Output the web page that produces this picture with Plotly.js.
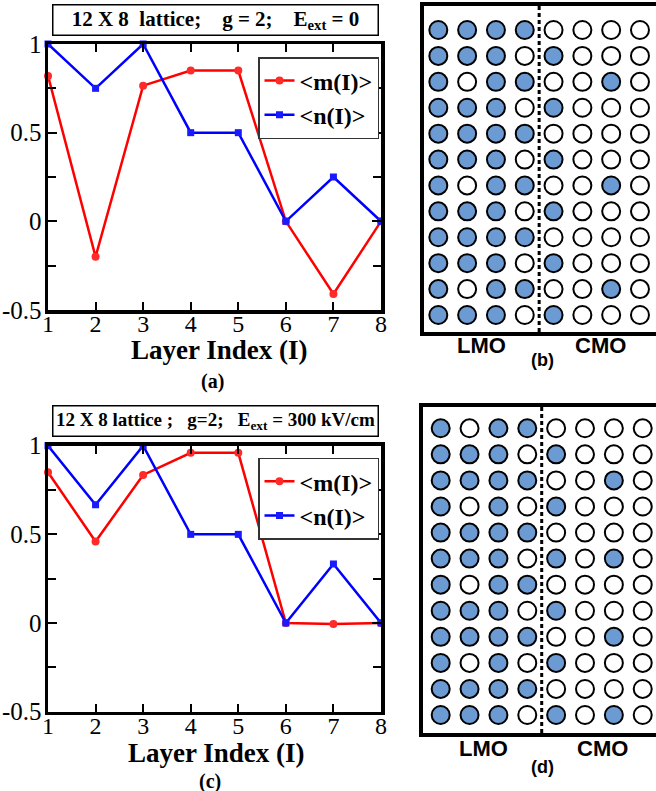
<!DOCTYPE html>
<html>
<head>
<meta charset="utf-8">
<script src="https://cdn.plot.ly/plotly-3.0.1.min.js"></script>
<style>html,body{margin:0;padding:0;background:#fff;}#chart{width:656px;height:791px;}</style>
</head>
<body>
<div id="chart"></div>
<script>
// ---------- data ----------
const layerIndex = [1, 2, 3, 4, 5, 6, 7, 8];
// panel (a): E_ext = 0
const mA = [0.82, -0.2, 0.765, 0.85, 0.85, 0, -0.41, 0];
const nA = [1, 0.75, 1, 0.5, 0.5, 0, 0.25, 0];
// panel (c): E_ext = 300 kV/cm
const mC = [0.85, 0.46, 0.835, 0.96, 0.96, 0, -0.005, 0];
const nC = [1, 0.667, 1, 0.5, 0.5, 0, 0.333, 0];
const yTickVals = [-0.5, 0, 0.5, 1];
const yTickText = ["-0.5", "0", "0.5", "1"];
// lattice occupation (1 = filled), rows top to bottom, 8 columns (4 LMO | 4 CMO)
const latticeB = [
  "11110000","11101000","10110010","11101000",
  "11110000","11101000","10110010","11101000",
  "11110000","11101000","10110010","11101000"
];
const latticeD = [
  "10110000","11101000","11110010","10101000",
  "11110000","11101010","10110000","11101000",
  "11110010","10101000","11110000","11101010"
];
const regionLabels = ["LMO", "CMO"];
const xAxisLabel = "Layer Index (I)";
const titleA = "12 X 8\u00a0\u00a0lattice;\u00a0\u00a0\u00a0 g = 2;\u00a0\u00a0\u00a0 E<sub>ext</sub> = 0";
const titleC = "12 X 8 lattice ;\u00a0\u00a0 g=2;\u00a0\u00a0 E<sub>ext</sub> = 300 kV/cm";

// ---------- styles ----------
const SERIF = "Liberation Serif, Times New Roman, serif";
const SANS = "Liberation Sans, Arial, sans-serif";
const FILL = "#6b9bd2";

function lineTraces(m, n, xa, ya, leg) {
  return [
    {x: layerIndex, y: m, xaxis: xa, yaxis: ya, legend: leg, name: "&lt;m(I)&gt;",
     mode: "lines+markers", cliponaxis: false,
     line: {color: "#ff0000", width: 2.5},
     marker: {symbol: "circle", size: 8, color: "#ff2a2a"}},
    {x: layerIndex, y: n, xaxis: xa, yaxis: ya, legend: leg, name: "&lt;n(I)&gt;",
     mode: "lines+markers", cliponaxis: false,
     line: {color: "#0000ff", width: 2.5},
     marker: {symbol: "square", size: 7, color: "#1a1aff"}}
  ];
}
function latticeTraces(pat, xa, ya) {
  const fx = [], fy = [], ex = [], ey = [];
  pat.forEach((row, r) => {
    row.split("").forEach((c, k) => {
      if (c === "1") { fx.push(k + 1); fy.push(r + 1); }
      else { ex.push(k + 1); ey.push(r + 1); }
    });
  });
  const base = {mode: "markers", xaxis: xa, yaxis: ya, showlegend: false, cliponaxis: false, hoverinfo: "skip"};
  return [
    Object.assign({x: fx, y: fy, marker: {symbol: "circle", size: 18, color: FILL, line: {color: "#000", width: 2}}}, base),
    Object.assign({x: ex, y: ey, marker: {symbol: "circle", size: 18, color: "#fff", line: {color: "#000", width: 2}}}, base)
  ];
}

const data = [].concat(
  lineTraces(mA, nA, "x", "y", "legend"),
  lineTraces(mC, nC, "x3", "y3", "legend2"),
  latticeTraces(latticeB, "x2", "y2"),
  latticeTraces(latticeD, "x4", "y4")
);

function chartX(domain) {
  return {domain: domain, range: [1, 8], dtick: 1, tick0: 1,
    ticks: "inside", ticklen: 8, tickwidth: 2, tickcolor: "#000",
    showline: true, linewidth: 3.5, linecolor: "#000", mirror: "allticks",
    showgrid: false, zeroline: false, ticklabelstandoff: -10,
    tickfont: {family: SERIF, size: 24, color: "#000"}};
}
function chartY(domain, anchor) {
  return {domain: domain, anchor: anchor, range: [-0.5, 1],
    tickmode: "array", tickvals: yTickVals, ticktext: yTickText,
    ticks: "inside", ticklen: 9, tickwidth: 2, tickcolor: "#000",
    minor: {dtick: 0.25, tick0: 0, ticks: "inside", ticklen: 8, tickwidth: 2, tickcolor: "#000", showgrid: false},
    showline: true, linewidth: 3.5, linecolor: "#000", mirror: "allticks",
    showgrid: false, zeroline: false, ticklabelstandoff: -2,
    tickfont: {family: SERIF, size: 25, color: "#000"}};
}
function latX(domain, range, anchor) {
  return {domain: domain, range: range, anchor: anchor, showline: true, linewidth: 4, linecolor: "#000",
    mirror: true, showticklabels: false, ticks: "", showgrid: false, zeroline: false};
}
function latY(domain, range, anchor) {
  return {domain: domain, range: range, anchor: anchor, showline: true, linewidth: 4, linecolor: "#000",
    mirror: false, showticklabels: false, ticks: "", showgrid: false, zeroline: false};
}

const W = 656, H = 791;
const px = v => v / W, py = v => (H - v) / H;

const legendStyle = {bgcolor: "#fff", bordercolor: "#333", borderwidth: 1.5,
  font: {family: SERIF, size: 24, color: "#000", weight: "bold"},
  xanchor: "left", yanchor: "top", tracegroupgap: 0, itemwidth: 30};

function note(text, x, y, font, extra) {
  return Object.assign({text: text, xref: "paper", yref: "paper", x: px(x), y: py(y),
    xanchor: "center", yanchor: "middle", showarrow: false, font: font}, extra || {});
}
const boxStyle = {width: 322, height: 27, borderpad: 1, bordercolor: "#000", borderwidth: 1.5, bgcolor: "#fff"};
const axisTitleFont = {family: SERIF, size: 27, color: "#000", weight: "bold"};
const annotations = [
  note(titleA, 215, 19.5, {family: SERIF, size: 21, color: "#000", weight: "bold"}, boxStyle),
  note(titleC, 215, 421.5, {family: SERIF, size: 19, color: "#000", weight: "bold"}, boxStyle),
  note(xAxisLabel, 219, 350, axisTitleFont),
  note(xAxisLabel, 216, 752.5, axisTitleFont),
  note("(a)", 212, 381, {family: SERIF, size: 20, color: "#000", weight: "bold"}),
  note("(c)", 210, 781, {family: SERIF, size: 20, color: "#000", weight: "bold"}),
  note("(b)", 542, 360, {family: SANS, size: 18, color: "#000", weight: "bold"}),
  note("(d)", 542, 767, {family: SANS, size: 18, color: "#000", weight: "bold"}),
  note(regionLabels[0], 481, 345, {family: SANS, size: 22, color: "#000", weight: "bold"}),
  note(regionLabels[1], 600, 345, {family: SANS, size: 22, color: "#000", weight: "bold"}),
  note(regionLabels[0], 483, 748, {family: SANS, size: 22, color: "#000", weight: "bold"}),
  note(regionLabels[1], 602, 748, {family: SANS, size: 22, color: "#000", weight: "bold"})
];

const layout = {
  width: W, height: H, margin: {l: 0, r: 0, t: 0, b: 0},
  paper_bgcolor: "#fff", plot_bgcolor: "rgba(0,0,0,0)",
  xaxis: Object.assign(chartX([px(48), px(381)]), {anchor: "y"}),
  yaxis: chartY([py(310), py(44)], "x"),
  xaxis3: Object.assign(chartX([px(48), px(381)]), {anchor: "y3"}),
  yaxis3: chartY([py(711.7), py(445.7)], "x3"),
  xaxis2: latX([px(424), 1], [0.503, 8.556], "y2"),
  yaxis2: latY([py(332), py(6)], [12.656, 0.073], "x2"),
  xaxis4: latX([px(423), 1], [0.387, 8.46], "y4"),
  yaxis4: latY([py(733), py(407)], [12.69, 0.183], "x4"),
  legend: Object.assign({x: px(258), y: py(57)}, legendStyle),
  legend2: Object.assign({x: px(258), y: py(457.7)}, legendStyle),
  shapes: [
    {type: "line", xref: "x2", yref: "y2 domain", x0: 4.5, x1: 4.5, y0: 0, y1: 1,
     line: {color: "#000", width: 3, dash: "4px,3px"}},
    {type: "line", xref: "x4", yref: "y4 domain", x0: 4.5, x1: 4.5, y0: 0, y1: 1,
     line: {color: "#000", width: 3, dash: "4px,3px"}}
  ],
  annotations: annotations,
  showlegend: true
};

Plotly.newPlot("chart", data, layout, {staticPlot: true, displayModeBar: false});
</script>
</body>
</html>
